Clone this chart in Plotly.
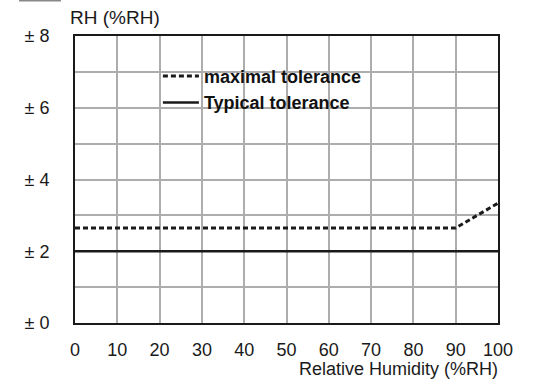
import plotly.graph_objects as go

# Data
rh = [0, 90, 100]
max_tol = [2.65, 2.65, 3.34]
typ_rh = [0, 100]
typ_tol = [2.0, 2.0]
y_ticks = [0, 2, 4, 6, 8]
y_ticktext = ["± 0", "± 2", "± 4", "± 6", "± 8"]
x_ticks = [0, 10, 20, 30, 40, 50, 60, 70, 80, 90, 100]

FONT = "Liberation Sans, Arial, sans-serif"

fig = go.Figure()
fig.add_trace(go.Scatter(
    x=rh, y=max_tol, mode="lines", name="maximal tolerance",
    line=dict(color="#1a1a1a", width=3, dash="5px,3px"),
))
fig.add_trace(go.Scatter(
    x=typ_rh, y=typ_tol, mode="lines", name="Typical tolerance",
    line=dict(color="#1a1a1a", width=2.5),
))

fig.update_layout(
    width=535, height=381,
    margin=dict(l=75, r=37, t=36, b=58, autoexpand=False),
    paper_bgcolor="white", plot_bgcolor="white",
    font=dict(family=FONT, color="#1a1a1a", size=18),
    showlegend=True,
    legend=dict(
        x=0.196, y=0.924, xanchor="left", yanchor="top",
        bgcolor="rgba(0,0,0,0)", borderwidth=0,
        font=dict(family=FONT, size=18, color="#111111", weight="bold"),
        itemwidth=36, tracegroupgap=0,
    ),
    xaxis=dict(
        range=[0, 100], tickmode="array", tickvals=x_ticks,
        showgrid=True, gridcolor="#adadad", gridwidth=1.5,
        zeroline=False, showline=True, linecolor="#1a1a1a", linewidth=2, mirror=True,
        ticks="outside", ticklen=0, ticklabelstandoff=9,
        tickfont=dict(family=FONT, size=18, color="#1a1a1a"),
    ),
    yaxis=dict(
        range=[0, 8], tickmode="array", tickvals=y_ticks, ticktext=y_ticktext,
        showgrid=True, gridcolor="#adadad", gridwidth=1.5,
        minor=dict(dtick=1, showgrid=True, gridcolor="#adadad", gridwidth=1.5),
        zeroline=False, showline=True, linecolor="#1a1a1a", linewidth=2, mirror=True,
        ticks="outside", ticklen=0, ticklabelstandoff=20,
        tickfont=dict(family=FONT, size=18, color="#1a1a1a"),
    ),
    annotations=[
        dict(text="Relative Humidity (%RH)", xref="paper", yref="paper",
             x=1.005, y=-0.159, xanchor="right", yanchor="middle", showarrow=False,
             font=dict(family=FONT, size=18, color="#1a1a1a")),
        dict(text="RH (%RH)", xref="paper", yref="paper",
             x=-0.0165, y=1.066, xanchor="left", yanchor="middle", showarrow=False,
             font=dict(family=FONT, size=19, color="#1a1a1a")),
    ],
    shapes=[
        dict(type="line", xref="paper", yref="paper",
             x0=-56/423, x1=-14/423, y0=1 + 35.5/287, y1=1 + 35.5/287,
             line=dict(color="#888888", width=2)),
    ],
)

fig.write_html("out.html", config={"displayModeBar": False},
               post_script="document.body.style.margin='0px';")
